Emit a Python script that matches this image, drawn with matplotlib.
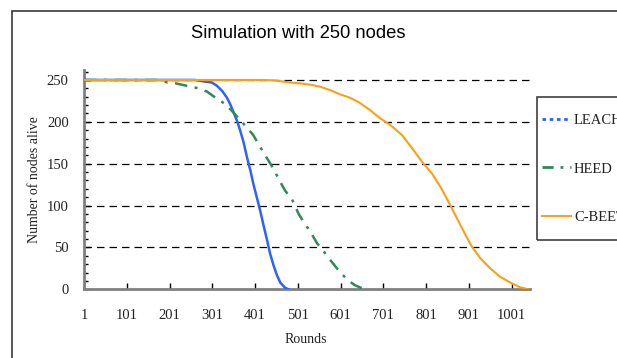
import matplotlib
matplotlib.use("Agg")
import matplotlib.pyplot as plt
from matplotlib.lines import Line2D
from matplotlib.patches import Rectangle
from matplotlib.ticker import MultipleLocator, FixedLocator

# ─── Data ────────────────────────────────────────────────────────────────────
leach_rounds = [1, 260, 285, 300, 312, 324, 335, 343, 351, 359, 366, 374, 382, 390, 397,
                405, 413, 421, 429, 436, 444, 452, 460, 471, 479]
leach_alive  = [250, 250, 248, 247, 243, 237, 229, 221, 211, 201, 190, 176, 158, 142, 126,
                110, 94, 76, 59, 43, 29, 17, 8, 2, 0]

heed_rounds = [1, 180, 196, 215, 242, 269, 289, 308, 332, 347, 363, 384, 397, 413, 432,
               444, 456, 471, 487, 503, 515, 530, 546, 565, 580, 599, 618, 634, 657]
heed_alive  = [250, 250, 247, 246, 243, 240, 236, 229, 221, 213, 204, 192, 184, 170, 154,
               144, 132, 118, 108, 90, 80, 69, 55, 43, 33, 21, 11, 5, 0]

cbeet_rounds = [1, 420, 444, 483, 506, 530, 553, 576, 599, 622, 645, 670, 694, 718, 745,
                769, 792, 815, 835, 854, 873, 893, 908, 928, 951, 974, 998, 1021, 1040]
cbeet_alive  = [250, 250, 249.6, 247, 246, 244.4, 242, 238, 233, 229, 223, 214, 204, 196, 184,
                168, 152, 138, 122, 104, 85, 65, 51, 37, 25, 15, 8, 2.4, 0]

x_ticks = [1, 101, 201, 301, 401, 501, 601, 701, 801, 901, 1001]
y_ticks = [0, 50, 100, 150, 200, 250]
series_names = ["LEACH", "HEED", "C-BEET"]

C_LEACH = "#2f62f5"
C_HEED  = "#2e8b57"
C_CBEET = "#f7a11a"
TXT = "#222222"
SERIF = ["Liberation Serif", "DejaVu Serif"]

# ─── Figure ──────────────────────────────────────────────────────────────────
W, H = 617, 358
fig = plt.figure(figsize=(W / 100, H / 100), dpi=100)
ax = fig.add_axes([84 / W, 1 - 289.3 / H, (530 - 84) / W, (289.3 - 71.6) / H])

# borde del área del gráfico (se sale por la derecha y por abajo)
fig.add_artist(Rectangle((12 / W, -0.2), 2, 1.2 - 11 / H, transform=fig.transFigure,
                         fill=False, ec="#3a3a3a", lw=1.2))

ax.plot(leach_rounds, leach_alive, color=C_LEACH, lw=1.8, zorder=3)
ax.plot(heed_rounds, heed_alive, color=C_HEED, lw=1.8, ls=(0, (5, 3, 1.2, 3)), zorder=3)
ax.plot(cbeet_rounds, cbeet_alive, color=C_CBEET, lw=1.5, zorder=3)

ax.set_xlim(1, 1044)
ax.set_ylim(0, 260)
for yv in y_ticks[1:]:
    ax.axhline(yv, color="black", lw=0.9, ls=(0, (6, 4)), zorder=1)

ax.xaxis.set_major_locator(FixedLocator(x_ticks))
ax.yaxis.set_major_locator(FixedLocator(y_ticks))
ax.yaxis.set_minor_locator(MultipleLocator(10))
ax.tick_params(axis="both", which="both", direction="in", color="black")
ax.tick_params(axis="x", length=4, width=1, pad=14)
ax.tick_params(axis="y", which="major", length=4, width=1, pad=11)
ax.tick_params(axis="y", which="minor", length=3, width=1)

for lab in ax.get_xticklabels() + ax.get_yticklabels():
    lab.set_family(SERIF)
    lab.set_fontsize(10.5)
    lab.set_color(TXT)

for s in ["top", "right"]:
    ax.spines[s].set_visible(False)
for s in ["left", "bottom"]:
    ax.spines[s].set_color("#808080")
    ax.spines[s].set_linewidth(2)
ax.spines["left"].set_bounds(0, 262)

ax.set_xlabel("Rounds", family=SERIF, fontsize=10, color=TXT)
ax.set_ylabel("Number of nodes alive", family=SERIF, fontsize=10, color=TXT)
ax.xaxis.set_label_coords((306 - 84) / 446, -(333 - 289.3) / 217.7)
ax.yaxis.set_label_coords(-(84 - 41) / 446, (289.3 - 180) / 217.7)

fig.text(298 / W, 1 - 33 / H, "Simulation with 250 nodes", family=["Liberation Sans", "DejaVu Sans"],
         fontsize=13.2, ha="center", va="center")

# leyenda: marco propio, entradas sin marco
fig.add_artist(Rectangle((537 / W, 1 - 240 / H), 0.3, (240 - 97) / H, transform=fig.transFigure,
                         fill=False, ec="#404040", lw=1.2))
handles = [
    Line2D([], [], color=C_LEACH, lw=2, ls=(0, (1.3, 1.3))),
    Line2D([], [], color=C_HEED, lw=2, ls=(0, (4, 2.5, 1, 2.5))),
    Line2D([], [], color=C_CBEET, lw=1.4),
]
leg = fig.legend(handles, series_names, loc="center left",
                 bbox_to_anchor=(542 / W, 1 - 169 / H), frameon=False,
                 prop={"family": SERIF, "size": 10.5}, handlelength=2.0, handletextpad=0.2,
                 labelspacing=2.4, borderpad=0, borderaxespad=0)
for t in leg.get_texts():
    t.set_color(TXT)

fig.savefig("out.png", dpi=100)
